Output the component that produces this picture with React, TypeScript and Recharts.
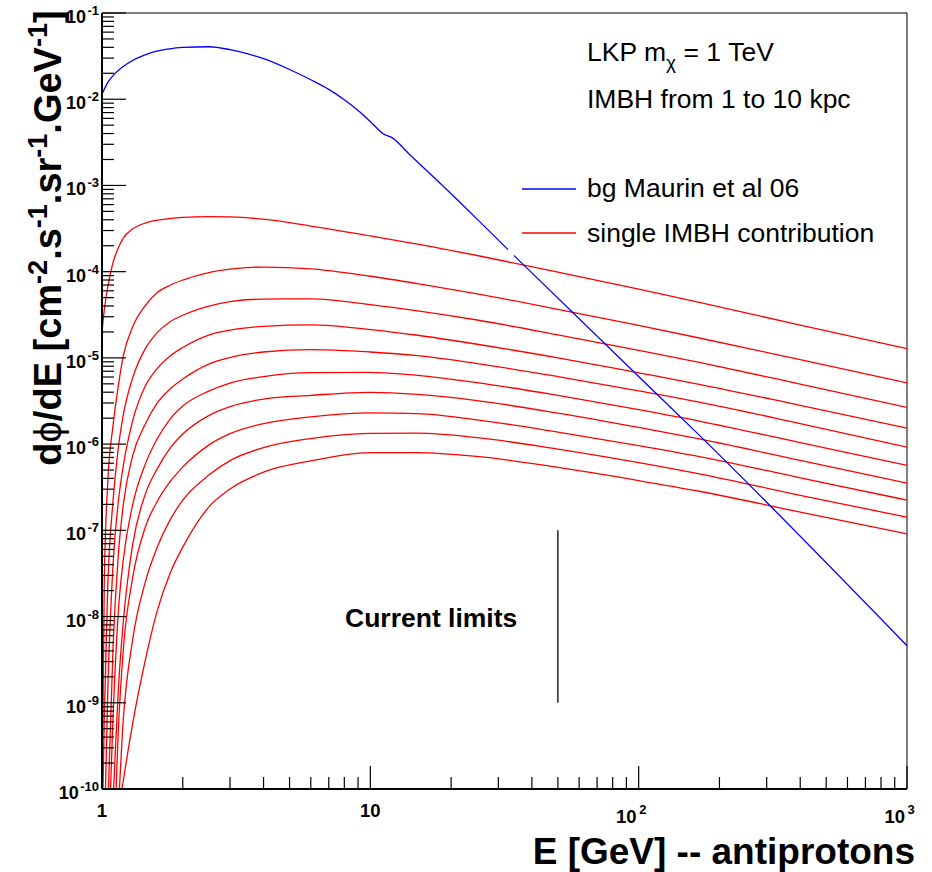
import React from "react";
import { LineChart, Line, XAxis, YAxis, ReferenceLine } from "recharts";

const FONT = '"Liberation Sans", Arial, Helvetica, sans-serif';
const WIDTH = 932;
const HEIGHT = 872;

// antiproton energies (GeV) where the IMBH spectra are sampled
const energyGrid = [1, 1.02, 1.05, 1.1, 1.15, 1.2, 1.3, 1.45, 1.6, 1.8, 2, 2.5, 3, 4, 6, 10, 15, 25, 50, 100, 170, 400, 1000];

// dPhi/dE of a single IMBH, from 1 kpc (top) to 10 kpc (bottom)
const imbh1kpc = [2.0e-5, 3.6e-5, 6.6e-5, 1.29e-4, 1.88e-4, 2.45e-4, 3.12e-4, 3.66e-4, 3.94e-4, 4.14e-4, 4.26e-4, 4.35e-4, 4.32e-4, 4.06e-4, 3.38e-4, 2.6e-4, 2.09e-4, 1.54e-4, 9.9e-5, 6.28e-5, 4.37e-5, 2.4e-5, 1.28e-5];
const imbh2kpc = [5.2e-11, 2.64e-8, 3.44e-7, 1.66e-6, 4.71e-6, 1.05e-5, 2.28e-5, 4.05e-5, 5.65e-5, 7.0e-5, 8.0e-5, 9.77e-5, 1.07e-4, 1.13e-4, 1.08e-4, 8.85e-5, 7.26e-5, 5.52e-5, 3.66e-5, 2.38e-5, 1.69e-5, 9.53e-6, 5.14e-6];
const imbh3kpc = [2.35e-11, 6.8e-10, 2.13e-8, 2.24e-7, 9.0e-7, 2.17e-6, 5.83e-6, 1.28e-5, 1.94e-5, 2.64e-5, 3.12e-5, 3.99e-5, 4.5e-5, 4.81e-5, 4.83e-5, 4.15e-5, 3.51e-5, 2.75e-5, 1.85e-5, 1.22e-5, 8.79e-6, 4.97e-6, 2.67e-6];
const imbh4kpc = [1e-12, 2.5e-11, 1.26e-9, 4.16e-8, 2.12e-7, 5.56e-7, 1.85e-6, 4.71e-6, 7.41e-6, 1.06e-5, 1.32e-5, 1.84e-5, 2.1e-5, 2.32e-5, 2.41e-5, 2.13e-5, 1.83e-5, 1.44e-5, 1.0e-5, 6.71e-6, 4.91e-6, 2.81e-6, 1.53e-6];
const imbh5kpc = [1e-12, 2.0e-12, 5.1e-11, 4.66e-9, 5.15e-8, 1.96e-7, 7.26e-7, 1.71e-6, 2.95e-6, 4.41e-6, 5.68e-6, 8.47e-6, 1.01e-5, 1.17e-5, 1.25e-5, 1.17e-5, 1.06e-5, 8.59e-6, 6.07e-6, 4.15e-6, 3.05e-6, 1.73e-6, 9.23e-7];
const imbh6kpc = [1e-12, 2.3e-12, 1.2e-11, 7.18e-10, 1.12e-8, 4.51e-8, 1.96e-7, 5.86e-7, 1.13e-6, 1.98e-6, 2.76e-6, 4.12e-6, 5.11e-6, 6.07e-6, 6.75e-6, 6.81e-6, 6.28e-6, 5.16e-6, 3.67e-6, 2.51e-6, 1.84e-6, 1.04e-6, 5.66e-7];
const imbh7kpc = [1e-12, 1e-12, 5e-12, 7.4e-11, 1.4e-9, 8.61e-9, 6.73e-8, 2.63e-7, 5.06e-7, 9.1e-7, 1.31e-6, 2.14e-6, 2.72e-6, 3.33e-6, 3.67e-6, 3.99e-6, 3.78e-6, 3.2e-6, 2.29e-6, 1.56e-6, 1.14e-6, 6.47e-7, 3.53e-7];
const imbh8kpc = [1e-12, 1e-12, 1e-12, 1.14e-11, 4.81e-10, 4.07e-9, 2.79e-8, 1.09e-7, 2.12e-7, 3.72e-7, 5.41e-7, 9.73e-7, 1.32e-6, 1.73e-6, 2.07e-6, 2.3e-6, 2.26e-6, 1.91e-6, 1.38e-6, 9.62e-7, 7.13e-7, 4.07e-7, 2.24e-7];
const imbh9kpc = [1e-12, 1e-12, 1e-12, 5e-12, 5.7e-11, 6.28e-10, 5.32e-9, 2.51e-8, 6.21e-8, 1.35e-7, 2.24e-7, 4.37e-7, 6.44e-7, 9.1e-7, 1.16e-6, 1.33e-6, 1.34e-6, 1.19e-6, 8.75e-7, 6.1e-7, 4.49e-7, 2.55e-7, 1.42e-7];
const imbh10kpc = [1e-12, 1e-12, 1e-12, 1e-12, 5.0e-11, 1.23e-10, 5.65e-10, 3.12e-9, 1.12e-8, 3.27e-8, 6.38e-8, 1.86e-7, 3.01e-7, 4.73e-7, 6.38e-7, 7.96e-7, 7.98e-7, 7.19e-7, 5.37e-7, 3.78e-7, 2.82e-7, 1.63e-7, 9.1e-8];

const imbhSpectra = [imbh1kpc, imbh2kpc, imbh3kpc, imbh4kpc, imbh5kpc, imbh6kpc, imbh7kpc, imbh8kpc, imbh9kpc, imbh10kpc];

// secondary antiproton background (Maurin et al 06); the null leaves the small gap in the curve
const bgEnergy = [1, 1.05, 1.1, 1.25, 1.5, 1.75, 2, 2.5, 3, 3.5, 4, 5, 6, 7, 8, 9, 10, 11.2, 12, 14, 18.2, 25, 32.6, 33.4, 34.3, 100, 170, 1000];
const bgFlux = [1.14e-2, 1.56e-2, 1.88e-2, 2.61e-2, 3.4e-2, 3.8e-2, 4.0e-2, 4.06e-2, 3.76e-2, 3.35e-2, 2.95e-2, 2.21e-2, 1.68e-2, 1.3e-2, 9.84e-3, 7.39e-3, 5.51e-3, 3.95e-3, 3.61e-3, 2.29e-3, 1.06e-3, 4.07e-4, 1.8e-4, null, 1.54e-4, 6.07e-6, 1.23e-6, 4.59e-9];

// "Current limits" bar
const limitEnergy = 50;
const limitFlux = [1e-9, 1e-7];

// axis decades and minor ticks
const xDecades = [0, 1, 2, 3];
const yDecades = [-10, -9, -8, -7, -6, -5, -4, -3, -2, -1];
const minorSteps = [2, 3, 4, 5, 6, 7, 8, 9];

const logTicks = (decades: number[]) =>
  decades.flatMap((d, i) =>
    i < decades.length - 1 ? [10 ** d, ...minorSteps.map((m) => m * 10 ** d)] : [10 ** d]
  );

const xTicks = logTicks(xDecades);
const yTicks = logTicks(yDecades);

const toRows = (es: number[], fs: (number | null)[]) => es.map((e, i) => ({ e, flux: fs[i] }));

function decadeOf(v: number) {
  const lg = Math.log10(v);
  const exp = Math.round(lg);
  return { exp, major: Math.abs(lg - exp) < 1e-6 };
}

function XTick(props: any) {
  const { x, y, payload } = props;
  const { exp, major } = decadeOf(payload.value);
  return (
    <g>
      <line x1={x} y1={y} x2={x} y2={y - (major ? 23 : 12)} stroke="#000" strokeWidth={1.2} />
      {major && exp < 2 && (
        <text x={x} y={y + 28} textAnchor="middle" fontFamily={FONT} fontWeight="bold" fontSize={18.5} fill="#000">
          {exp === 0 ? "1" : "10"}
        </text>
      )}
      {major && exp >= 2 && (
        <g fontFamily={FONT} fontWeight="bold" fill="#000">
          <text x={x - 2} y={y + 34} textAnchor="end" fontSize={18.5}>10</text>
          <text x={x + 0.5} y={y + 25} fontSize={13}>{exp}</text>
        </g>
      )}
    </g>
  );
}

function YTick(props: any) {
  const { x, y, payload } = props;
  const { exp, major } = decadeOf(payload.value);
  return (
    <g>
      <line x1={x} y1={y} x2={x + (major ? 24 : 12)} y2={y} stroke="#000" strokeWidth={1.2} />
      {major && (
        <text x={x - 3} y={y + 10} textAnchor="end" fontFamily={FONT} fontWeight="bold" fontSize={18} fill="#000">
          10
          <tspan dx={1.5} dy={-8} fontSize={13}>
            {exp}
          </tspan>
        </text>
      )}
    </g>
  );
}

function Annotations() {
  return (
    <svg
      width={WIDTH}
      height={HEIGHT}
      style={{ position: "absolute", left: 0, top: 0, pointerEvents: "none" }}
      fontFamily={FONT}
      fill="#000"
    >
      <text transform="rotate(-90)" x={-238} y={61} textAnchor="middle" fontSize={38} fontWeight="bold">
        d<tspan fontWeight="normal">ϕ</tspan>/dE [cm
        <tspan dy={-14} fontSize={27}>-2</tspan>
        <tspan dy={14}>.s</tspan>
        <tspan dy={-14} fontSize={27}>-1</tspan>
        <tspan dy={14}>.sr</tspan>
        <tspan dy={-14} fontSize={27}>-1</tspan>
        <tspan dy={14}>.GeV</tspan>
        <tspan dy={-14} fontSize={27}>-1</tspan>
        <tspan dy={14}>]</tspan>
      </text>
      <text x={915} y={864} textAnchor="end" fontSize={37} fontWeight="bold">
        E [GeV] -- antiprotons
      </text>

      <text x={587} y={61} fontSize={26.5}>
        LKP m<tspan dy={8} fontSize={19}>χ</tspan>
        <tspan dy={-8}> = 1 TeV</tspan>
      </text>
      <text x={587} y={108} fontSize={26.5}>
        IMBH from 1 to 10 kpc
      </text>

      <line x1={522} x2={576} y1={189} y2={189} stroke="#0000ff" strokeWidth={1.3} />
      <text x={587} y={197} fontSize={26.5}>
        bg Maurin et al 06
      </text>
      <line x1={522} x2={576} y1={233} y2={233} stroke="#ff0000" strokeWidth={1.3} />
      <text x={587} y={242} fontSize={26.5}>
        single IMBH contribution
      </text>

      <text x={345} y={627} fontSize={26.5} fontWeight="bold">
        Current limits
      </text>
    </svg>
  );
}

export default function App() {
  return (
    <div style={{ position: "absolute", left: 0, top: 0, width: WIDTH, height: HEIGHT, background: "#fff" }}>
      <LineChart width={WIDTH} height={HEIGHT} margin={{ top: 13, right: 25, bottom: 0, left: 0 }}>
        <XAxis
          dataKey="e"
          type="number"
          scale="log"
          domain={[1, 1000]}
          ticks={xTicks}
          interval={0}
          allowDataOverflow
          height={83}
          tickSize={0}
          tickMargin={0}
          tickLine={false}
          axisLine={{ stroke: "#000", strokeWidth: 2 }}
          tick={(p: any) => <XTick {...p} />}
        />
        <YAxis
          type="number"
          scale="log"
          domain={[1e-10, 0.1]}
          ticks={yTicks}
          interval={0}
          allowDataOverflow
          width={102}
          tickSize={0}
          tickMargin={0}
          tickLine={false}
          axisLine={{ stroke: "#000", strokeWidth: 2 }}
          tick={(p: any) => <YTick {...p} />}
        />
        <ReferenceLine y={0.1} stroke="#000" strokeWidth={1} />
        <ReferenceLine x={1000} stroke="#000" strokeWidth={1} />

        {imbhSpectra.map((flux, i) => (
          <Line
            key={`imbh-${i + 1}`}
            data={toRows(energyGrid, flux)}
            dataKey="flux"
            type="monotone"
            stroke="#ff0000"
            strokeWidth={1.3}
            dot={false}
            activeDot={false}
            isAnimationActive={false}
          />
        ))}
        <Line
          data={toRows(bgEnergy, bgFlux)}
          dataKey="flux"
          type="monotone"
          stroke="#0000ff"
          strokeWidth={1.3}
          dot={false}
          activeDot={false}
          connectNulls={false}
          isAnimationActive={false}
        />

        <ReferenceLine
          segment={[
            { x: limitEnergy, y: limitFlux[0] },
            { x: limitEnergy, y: limitFlux[1] },
          ]}
          stroke="#000"
          strokeWidth={1.3}
        />
      </LineChart>
      <Annotations />
    </div>
  );
}
